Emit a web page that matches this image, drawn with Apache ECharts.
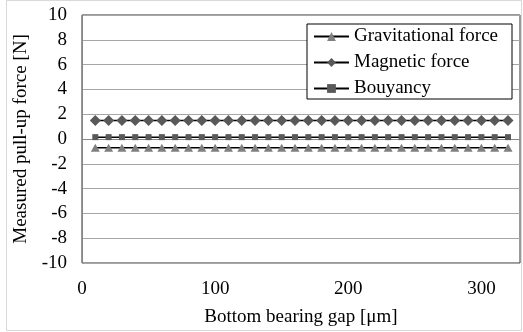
<!DOCTYPE html>
<html>
<head>
<meta charset="utf-8">
<script src="https://cdn.jsdelivr.net/npm/echarts@6/dist/echarts.min.js"></script>
<style>
html,body{margin:0;padding:0;background:#fff;}
#c{width:523px;height:332px;}
</style>
</head>
<body>
<div id="c"></div>
<script>
// Data
const gapUm = [10,20,30,40,50,60,70,80,90,100,110,120,130,140,150,160,170,180,190,200,210,220,230,240,250,260,270,280,290,300,310,320];
const gravitational = [-0.7,-0.7,-0.7,-0.7,-0.7,-0.7,-0.7,-0.7,-0.7,-0.7,-0.7,-0.7,-0.7,-0.7,-0.7,-0.7,-0.7,-0.7,-0.7,-0.7,-0.7,-0.7,-0.7,-0.7,-0.7,-0.7,-0.7,-0.7,-0.7,-0.7,-0.7,-0.7];
const magnetic = [1.5,1.5,1.5,1.5,1.5,1.5,1.5,1.5,1.5,1.5,1.5,1.5,1.5,1.5,1.5,1.5,1.5,1.5,1.5,1.5,1.5,1.5,1.5,1.5,1.5,1.5,1.5,1.5,1.5,1.5,1.5,1.5];
const buoyancy = [0.15,0.15,0.15,0.15,0.15,0.15,0.15,0.15,0.15,0.15,0.15,0.15,0.15,0.15,0.15,0.15,0.15,0.15,0.15,0.15,0.15,0.15,0.15,0.15,0.15,0.15,0.15,0.15,0.15,0.15,0.15,0.15];
const seriesNames = ['Gravitational force','Magnetic force','Bouyancy'];
const xTitle = 'Bottom bearing gap [μm]';
const yTitle = 'Measured pull-up force [N]';

const pairs = arr => gapUm.map((x, i) => [x, arr[i]]);
const FONT = 'Liberation Serif';

const chart = echarts.init(document.getElementById('c'), null, {renderer: 'canvas'});
chart.setOption({
  animation: false,
  backgroundColor: '#fff',
  graphic: [{
    type: 'rect', silent: true, z: -10,
    shape: {x: 6.5, y: 0.5, width: 515, height: 330},
    style: {fill: 'none', stroke: '#d9d9d9', lineWidth: 1}
  }],
  grid: {left: 82, top: 15, right: 3, bottom: 67, show: true, borderColor: '#333', borderWidth: 1, containLabel: false},
  legend: {
    orient: 'vertical', left: 307, top: 24,
    padding: [3, 14, 1, 6], itemGap: 7,
    itemWidth: 35, itemHeight: 11,
    backgroundColor: '#fff', borderColor: '#000', borderWidth: 1,
    textStyle: {fontFamily: FONT, fontSize: 19, color: '#000'},
    data: seriesNames
  },
  xAxis: {
    type: 'value', min: 0, max: 329, interval: 100,
    name: xTitle, nameLocation: 'middle', nameGap: 45,
    nameTextStyle: {fontFamily: FONT, fontSize: 19, color: '#000'},
    axisLine: {show: true, lineStyle: {color: '#868686', width: 1}},
    axisTick: {show: false},
    splitLine: {show: false},
    axisLabel: {fontFamily: FONT, fontSize: 19, color: '#000', margin: 17, showMaxLabel: false}
  },
  yAxis: {
    type: 'value', min: -10, max: 10, interval: 2,
    name: yTitle, nameLocation: 'middle', nameGap: 42,
    nameTextStyle: {fontFamily: FONT, fontSize: 19, color: '#000'},
    axisLine: {show: true, lineStyle: {color: '#868686', width: 1}},
    axisTick: {show: false},
    splitLine: {show: true, lineStyle: {color: '#a6a6a6', width: 1}},
    axisLabel: {fontFamily: FONT, fontSize: 19, color: '#000', margin: 15}
  },
  series: [
    {name: seriesNames[0], type: 'line', data: pairs(gravitational),
     symbol: 'triangle', symbolSize: [9, 8], showAllSymbol: true,
     lineStyle: {color: '#000', width: 1.5}, itemStyle: {color: '#7f7f7f'}},
    {name: seriesNames[1], type: 'line', data: pairs(magnetic),
     symbol: 'diamond', symbolSize: [11, 11], showAllSymbol: true,
     lineStyle: {color: '#000', width: 1.5}, itemStyle: {color: '#595959'}},
    {name: seriesNames[2], type: 'line', data: pairs(buoyancy),
     symbol: 'rect', symbolSize: [6, 6], showAllSymbol: true,
     lineStyle: {color: '#000', width: 1.5}, itemStyle: {color: '#595959'}}
  ]
});
</script>
</body>
</html>
